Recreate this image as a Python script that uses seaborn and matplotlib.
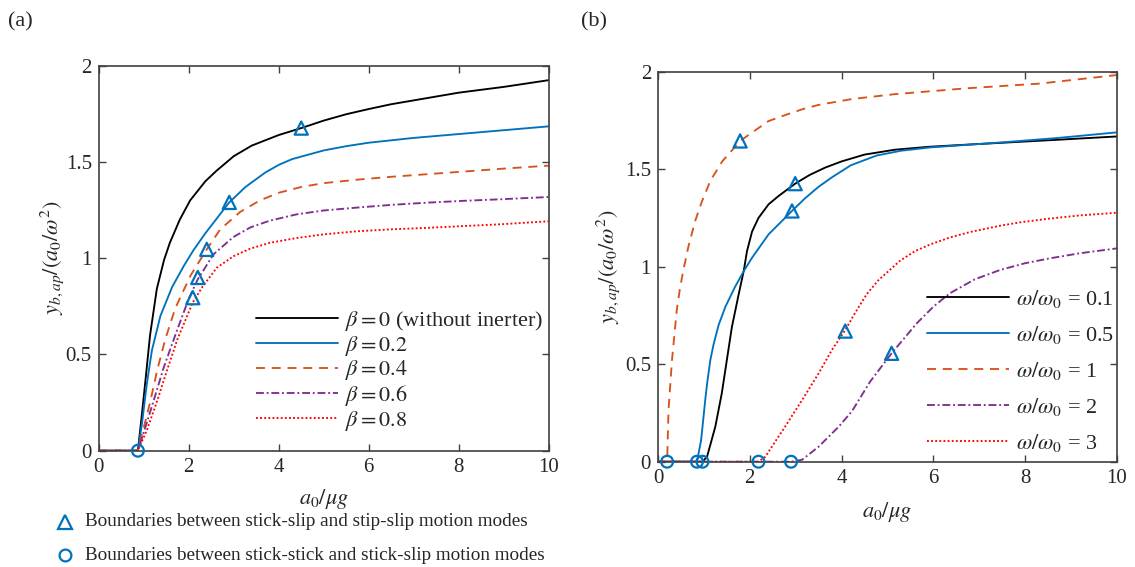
import pandas as pd
import matplotlib.pyplot as plt
import seaborn as sns
from matplotlib.lines import Line2D

# ===== Panel (a): effect of inerter ratio beta =====
beta_labels = [r"$\beta = 0$ (without inerter)", r"$\beta = 0.2$", r"$\beta = 0.4$",
               r"$\beta = 0.6$", r"$\beta = 0.8$"]

a_x_b00 = [0, 0.87, 0.95, 1.04, 1.14, 1.29, 1.45, 1.58, 1.8, 2.03, 2.37, 2.62, 3.0, 3.4,
           4.0, 4.5, 5.0, 5.5, 6.0, 6.5, 7.0, 8.0, 9.0, 10]
a_y_b00 = [0, 0, 0.17, 0.37, 0.60, 0.84, 0.99, 1.08, 1.20, 1.30, 1.40, 1.455, 1.53, 1.585,
           1.64, 1.676, 1.715, 1.748, 1.775, 1.80, 1.82, 1.86, 1.89, 1.925]

a_x_b02 = [0, 0.87, 0.96, 1.07, 1.18, 1.37, 1.63, 1.89, 2.1, 2.37, 2.9, 3.26, 3.7, 4.0, 4.3,
           5.0, 5.5, 6.0, 7.0, 8.0, 9.0, 10]
a_y_b02 = [0, 0, 0.14, 0.35, 0.52, 0.70, 0.85, 0.96, 1.04, 1.13, 1.29, 1.37, 1.445, 1.485,
           1.515, 1.56, 1.582, 1.60, 1.625, 1.645, 1.665, 1.685]

a_x_b04 = [0, 0.87, 1.0, 1.15, 1.30, 1.48, 1.70, 2.04, 2.40, 2.7, 3.14, 3.58, 4.0, 4.5,
           5.0, 5.74, 6.5, 7.33, 8.1, 8.91, 10]
a_y_b04 = [0, 0, 0.12, 0.26, 0.42, 0.58, 0.74, 0.91, 1.046, 1.15, 1.24, 1.30, 1.34, 1.37,
           1.39, 1.408, 1.423, 1.437, 1.45, 1.464, 1.481]

a_x_b06 = [0, 0.87, 1.04, 1.22, 1.44, 1.70, 2.0, 2.2, 2.55, 2.99, 3.37, 3.8, 4.4, 5.0,
           5.74, 6.5, 7.33, 8.1, 8.91, 10]
a_y_b06 = [0, 0, 0.125, 0.26, 0.43, 0.60, 0.79, 0.89, 1.02, 1.11, 1.16, 1.195, 1.228, 1.248,
           1.263, 1.277, 1.289, 1.298, 1.306, 1.318]

a_x_b08 = [0, 0.87, 1.07, 1.30, 1.52, 1.75, 2.0, 2.09, 2.3, 2.62, 2.99, 3.37, 3.8, 4.4,
           5.0, 5.74, 6.5, 7.33, 8.1, 8.91, 10]
a_y_b08 = [0, 0, 0.107, 0.26, 0.42, 0.58, 0.72, 0.77, 0.85, 0.95, 1.01, 1.05, 1.08, 1.105,
           1.124, 1.14, 1.15, 1.158, 1.167, 1.176, 1.192]

a_tri_x = [4.5, 2.9, 2.40, 2.2, 2.09]
a_tri_y = [1.676, 1.29, 1.046, 0.90, 0.795]
a_circ_x = [0.87]
a_circ_y = [0]

# ===== Panel (b): effect of frequency ratio omega/omega0 =====
omega_labels = [r"$\omega/\omega_0$ = 0.1", r"$\omega/\omega_0$ = 0.5", r"$\omega/\omega_0$ = 1",
                r"$\omega/\omega_0$ = 2", r"$\omega/\omega_0$ = 3"]

b_x_w01 = [0, 0.97, 1.07, 1.25, 1.39, 1.50, 1.61, 1.76, 1.87, 1.94, 2.05, 2.19, 2.41, 2.63,
           2.99, 3.3, 3.64, 4.0, 4.5, 5.16, 5.9, 6.73, 8.31, 10]
b_y_w01 = [0, 0, 0.026, 0.18, 0.35, 0.52, 0.69, 0.86, 0.98, 1.08, 1.18, 1.25, 1.32, 1.363,
           1.426, 1.47, 1.508, 1.54, 1.575, 1.60, 1.615, 1.626, 1.646, 1.668]

b_x_w05 = [0, 0.85, 0.94, 1.03, 1.07, 1.14, 1.21, 1.32, 1.47, 1.68, 1.87, 2.05, 2.41, 2.92,
           3.2, 3.5, 3.8, 4.2, 4.76, 5.3, 5.94, 7.52, 8.7, 10]
b_y_w05 = [0, 0, 0.11, 0.316, 0.40, 0.52, 0.60, 0.70, 0.795, 0.897, 0.978, 1.046, 1.166,
           1.286, 1.35, 1.41, 1.46, 1.52, 1.57, 1.595, 1.612, 1.638, 1.66, 1.689]

b_x_w1 = [0, 0.2, 0.23, 0.305, 0.41, 0.48, 0.56, 0.66, 0.81, 0.95, 1.14, 1.4, 1.79, 2.0,
          2.41, 2.8, 3.14, 3.5, 4.23, 5.16, 6.73, 8.31, 10]
b_y_w1 = [0, 0, 0.265, 0.52, 0.778, 0.89, 0.99, 1.10, 1.234, 1.33, 1.44, 1.54, 1.645, 1.68,
          1.747, 1.78, 1.807, 1.83, 1.86, 1.885, 1.915, 1.939, 1.983]

b_x_w2 = [0, 2.90, 3.14, 3.50, 3.94, 4.23, 4.62, 5.09, 5.64, 6.0, 6.36, 6.9, 7.45, 8.0, 8.54,
          9.19, 10]
b_y_w2 = [0, 0, 0.01, 0.077, 0.18, 0.26, 0.41, 0.556, 0.71, 0.795, 0.864, 0.935, 0.983,
          1.018, 1.043, 1.069, 1.094]

b_x_w3 = [0, 2.19, 2.34, 2.77, 3.14, 3.50, 3.79, 4.08, 4.3, 4.55, 4.8, 5.27, 5.6, 5.94, 6.36,
          6.8, 7.45, 7.9, 8.54, 9.19, 10]
b_y_w3 = [0, 0, 0.026, 0.18, 0.316, 0.453, 0.573, 0.675, 0.765, 0.86, 0.93, 1.03, 1.08,
          1.115, 1.15, 1.178, 1.21, 1.228, 1.247, 1.263, 1.277]

b_tri_x = [1.79, 2.99, 2.92, 4.08, 5.09]
b_tri_y = [1.645, 1.426, 1.286, 0.67, 0.556]
b_circ_x = [0.2, 0.85, 0.97, 2.19, 2.90]
b_circ_y = [0, 0, 0, 0, 0]

xticks = [0, 2, 4, 6, 8, 10]
yticks = [0, 0.5, 1, 1.5, 2]
ytick_labels = ["0", "0.5", "1", "1.5", "2"]

# ---- style ----
sns.set_style("ticks")
plt.rcParams["font.family"] = ["Liberation Serif", "DejaVu Serif"]
plt.rcParams["mathtext.fontset"] = "stix"
plt.rcParams["xtick.direction"] = "in"
plt.rcParams["ytick.direction"] = "in"

colors = ["black", "#0072BD", "#D95319", "#7E2F8E", "#FF0000"]
styles = ["-", "-", (0, (4.8, 3.6)), (0, (4.2, 1.5, 1, 1.5)), (0, (1, 1.2))]
mk_color = "#0072BD"
FS = 15
LFS = 16

fig = plt.figure(figsize=(11.35, 5.67), dpi=100)
ax_a = fig.add_axes([0.087, 0.2051, 0.3965, 0.679])
ax_b = fig.add_axes([0.5797, 0.1857, 0.4044, 0.6878])


def draw_panel(ax, xs, ys, labels, tri_x, tri_y, circ_x, circ_y):
    for x, y, lab, c, ls in zip(xs, ys, labels, colors, styles):
        df = pd.DataFrame({"x": x, "y": y})
        sns.lineplot(data=df, x="x", y="y", ax=ax, color=c, linestyle=ls,
                     linewidth=1.35, label=lab)
    sns.scatterplot(x=tri_x, y=tri_y, ax=ax, marker="^", s=90, color=mk_color,
                    facecolor="none", edgecolor=mk_color, linewidth=1.6,
                    clip_on=False, zorder=5)
    sns.scatterplot(x=circ_x, y=circ_y, ax=ax, marker="o", s=72, color=mk_color,
                    facecolor="none", edgecolor=mk_color, linewidth=1.6,
                    clip_on=False, zorder=5)
    ax.set_xlim(0, 10)
    ax.set_ylim(0, 2)
    ax.set_xticks(xticks, labels=[str(t) for t in xticks])
    ax.set_yticks(yticks, labels=ytick_labels)
    ax.tick_params(axis="both", labelsize=FS, length=5, width=1.0, color="#404040",
                   top=True, right=True, pad=5)
    for sp in ax.spines.values():
        sp.set_visible(True)
        sp.set_color("#404040")
        sp.set_linewidth(1.2)
    ax.set_xlabel(r"$a_0/\mu g$", fontsize=FS + 1)
    ax.set_ylabel(r"$y_{b,ap}/(a_0/\omega^2)$", fontsize=FS + 1)


draw_panel(ax_a, [a_x_b00, a_x_b02, a_x_b04, a_x_b06, a_x_b08],
           [a_y_b00, a_y_b02, a_y_b04, a_y_b06, a_y_b08], beta_labels,
           a_tri_x, a_tri_y, a_circ_x, a_circ_y)
draw_panel(ax_b, [b_x_w01, b_x_w05, b_x_w1, b_x_w2, b_x_w3],
           [b_y_w01, b_y_w05, b_y_w1, b_y_w2, b_y_w3], omega_labels,
           b_tri_x, b_tri_y, b_circ_x, b_circ_y)

ax_a.xaxis.set_label_coords(0.5, -0.095)
ax_b.xaxis.set_label_coords(0.5, -0.098)
ax_a.yaxis.set_label_coords(-0.073, 0.5)
ax_b.yaxis.set_label_coords(-0.078, 0.5)

ax_a.legend(loc="upper left", bbox_to_anchor=(256 / 1135, 1 - 309 / 567),
            bbox_transform=fig.transFigure, frameon=False, fontsize=LFS,
            handlelength=3.7, handletextpad=0.3, labelspacing=0.03, borderpad=0,
            borderaxespad=0)
ax_b.legend(loc="upper left", bbox_to_anchor=(927 / 1135, 1 - 288 / 567),
            bbox_transform=fig.transFigure, frameon=False, fontsize=LFS,
            handlelength=3.7, handletextpad=0.3, labelspacing=0.63, borderpad=0,
            borderaxespad=0)

fig.text(8 / 1135, 1 - 22 / 567, "(a)", fontsize=FS + 1, va="center", ha="left")
fig.text(581 / 1135, 1 - 22 / 567, "(b)", fontsize=FS + 1, va="center", ha="left")

# marker key below panel (a)
fig.add_artist(Line2D([65 / 1135], [1 - 521.7 / 567], marker="^", markersize=9.5,
                      markerfacecolor="none", markeredgecolor=mk_color, mew=1.6,
                      linestyle="none", transform=fig.transFigure))
fig.add_artist(Line2D([65 / 1135], [1 - 555 / 567], marker="o", markersize=8.5,
                      markerfacecolor="none", markeredgecolor=mk_color, mew=1.6,
                      linestyle="none", transform=fig.transFigure))
fig.text(85 / 1135, 1 - 521.7 / 567,
         "Boundaries between stick-slip and stip-slip motion modes",
         fontsize=13.8, va="center", ha="left")
fig.text(85 / 1135, 1 - 555 / 567,
         "Boundaries between stick-stick and stick-slip motion modes",
         fontsize=13.8, va="center", ha="left")

fig.savefig("out.png", dpi=100)
